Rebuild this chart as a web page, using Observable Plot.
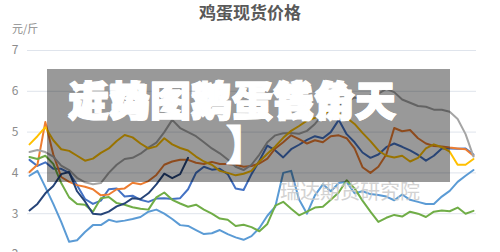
<!DOCTYPE html>
<html>
<head>
<meta charset="utf-8">
<script src="https://cdn.jsdelivr.net/npm/d3@7"></script>
<script src="https://cdn.jsdelivr.net/npm/@observablehq/plot@0.6"></script>
<style>
  html, body { margin: 0; padding: 0; background: #ffffff; }
  #chart { width: 500px; height: 252px; overflow: hidden; }
</style>
</head>
<body>
<div id="chart"></div>
<script>
// ---- data ----
const title = "鸡蛋现货价格";
const unitLabel = "元/斤";
const watermark = "瑞达期货研究院";
const bannerLine1a = "走势图鸡蛋售价天";
const bannerLine1b = "近鸡图鹅蛋钱角天";
const bannerLine2 = "】";
const yTicks = [2, 3, 4, 5, 6, 7];

const weeks = [1,2,3,4,5,6,7,8,9,10,11,12,13,14,15,16,17,18,19,20,21,22,23,24,25,26,27,28,29,30,31,32,33,34,35,36,37,38,39,40,41,42,43,44,45,46,47,48,49,50,51,52,53,54,55,56,57];

const seriesBlue = [4.32,4.17,4.26,4.1,4.1,4.0,3.7,3.36,3.24,3.32,
  3.6,3.62,3.42,3.44,3.34,3.29,3.37,3.38,3.36,3.38,
  3.6,4.0,4.15,4.08,4.1,3.97,3.62,3.58,3.97,4.3,
  4.67,4.55,4.38,4.58,4.69,4.81,4.9,4.85,5.0,5.3,
  4.95,4.75,4.5,4.37,4.45,4.63,4.72,4.64,4.55,4.44,
  4.3,4.42,4.6,4.6,4.59,4.6,4.45];
const seriesOrange = [4.02,4.2,5.25,4.45,3.9,3.78,3.7,3.66,3.6,3.45,
  3.47,3.6,3.62,3.76,3.72,3.8,3.95,4.2,4.28,4.32,
  4.32,4.25,4.22,4.27,4.22,4.22,4.2,4.15,4.17,4.23,
  4.35,4.6,4.75,4.92,4.83,4.72,4.8,4.75,4.9,4.92,
  4.85,4.6,4.14,4.0,4.15,4.45,5.1,5.02,5.05,4.85,
  4.72,4.66,4.65,4.62,4.6,4.58,4.42];
const seriesGray = [4.51,4.56,4.51,4.4,4.18,4.07,3.88,3.77,3.72,3.75,
  4.0,4.2,4.34,4.37,4.47,4.62,4.74,5.0,5.3,5.1,
  5.0,4.9,4.75,4.6,4.48,4.33,4.15,4.07,4.2,4.45,
  4.75,4.92,4.97,4.98,4.96,5.03,5.2,5.43,5.55,5.65,
  5.75,5.85,5.8,5.9,5.94,6.06,5.98,5.8,5.72,5.64,
  5.62,5.55,5.55,5.5,5.32,4.95,4.4];
const seriesGold = [4.7,4.9,5.12,4.8,4.58,4.54,4.42,4.3,4.35,4.49,
  4.6,4.78,4.93,4.87,4.72,4.6,4.65,4.85,4.7,4.61,
  4.55,4.4,4.28,4.2,4.05,4.0,3.94,3.98,4.05,4.28,
  4.47,4.65,4.86,5.03,5.15,5.28,5.35,5.45,5.52,5.45,
  5.35,5.2,4.98,4.78,4.55,4.42,4.38,4.42,4.28,4.37,
  4.6,4.7,4.63,4.52,4.2,4.2,4.34];
const seriesLightBlue = [3.93,4.05,3.65,3.24,2.8,2.31,2.35,2.55,2.72,2.72,
  2.85,2.8,2.83,2.87,2.92,3.05,3.1,3.0,2.87,2.72,
  2.7,2.6,2.5,2.52,2.6,2.5,2.42,2.36,2.45,2.65,
  2.95,3.17,4.0,4.05,3.35,3.0,3.45,3.72,3.55,3.75,
  3.78,3.5,3.55,3.48,3.46,3.42,3.33,3.47,3.34,3.29,
  3.24,3.24,3.42,3.56,3.78,3.93,4.07];
const seriesGreen = [4.39,4.34,4.42,4.22,3.75,3.4,3.24,3.22,3.05,3.38,
  3.41,3.26,3.22,3.16,3.12,3.1,3.4,3.52,3.34,3.25,
  3.17,3.22,3.1,3.0,2.88,2.85,2.7,2.73,2.67,2.57,
  2.75,3.2,3.29,3.12,2.96,3.05,3.15,3.17,3.34,3.52,
  3.82,3.62,3.32,3.05,2.8,2.9,2.97,2.93,3.05,3.0,
  2.92,3.05,3.08,3.06,3.15,3.0,3.07];
const seriesNavy = [3.08,3.24,3.5,3.68,3.97,4.02,3.55,3.3,3.0,2.98,
  3.05,3.18,3.25,3.38,3.36,3.5,3.72,3.98,3.87,3.97,
  4.37];

const seriesList = [
  {values: seriesBlue, color: "#4472C4"},
  {values: seriesOrange, color: "#ED7D31"},
  {values: seriesGray, color: "#A5A5A5"},
  {values: seriesGold, color: "#FFC000"},
  {values: seriesLightBlue, color: "#5B9BD5"},
  {values: seriesGreen, color: "#70AD47"},
  {values: seriesNavy, color: "#264478"}
];

const font = "'Noto Sans CJK SC', 'Noto Sans', sans-serif";

const lineMarks = seriesList.map(s =>
  Plot.line(s.values.map((v, i) => ({week: weeks[i], price: v})), {
    x: "week", y: "price", stroke: s.color, strokeWidth: 2, strokeLinejoin: "round"
  })
);

const chart = Plot.plot({
  width: 500,
  height: 252,
  marginLeft: 20, marginRight: 0, marginTop: 0, marginBottom: 0,
  style: {background: "#ffffff", fontFamily: font, fontSize: "12px", overflow: "hidden"},
  x: {domain: [1, 57], range: [29, 473], axis: null},
  y: {domain: [2, 7], range: [254, 50], axis: null},
  marks: [
    Plot.gridY(yTicks, {stroke: "#dfe4ec", strokeOpacity: 1, strokeWidth: 1, insetLeft: 7, insetRight: 24}),
    Plot.axisY(yTicks, {anchor: "left", tickSize: 0, tickPadding: 2, fill: "#8c8c8c", fontSize: 12, label: null, tickFormat: d => String(d)}),
    ...lineMarks
  ]
});

document.getElementById("chart").appendChild(chart);

const svg = d3.select(chart);

// title and unit
svg.append("text").attr("x", 250).attr("y", 19).attr("text-anchor", "middle")
  .attr("font-family", font).attr("font-size", 17).attr("font-weight", "bold")
  .attr("fill", "#595959").text(title);
svg.append("text").attr("x", 12).attr("y", 33).attr("text-anchor", "start")
  .attr("font-family", font).attr("font-size", 11).attr("fill", "#8c8c8c").text(unitLabel);

// watermark
svg.append("text").attr("x", 280).attr("y", 199).attr("text-anchor", "start")
  .attr("font-family", font).attr("font-size", 20).attr("fill", "#c8c8c8").attr("opacity", 0.8)
  .text(watermark);

// dark translucent banner
svg.append("rect").attr("x", 47).attr("y", 69).attr("width", 403).attr("height", 113)
  .attr("fill", "#000000").attr("fill-opacity", 0.4);

const banner = svg.append("g").attr("font-family", font).attr("font-weight", 900)
  .attr("font-size", 41).attr("fill", "#ffffff").attr("stroke", "#ffffff")
  .attr("stroke-width", 1.2).attr("text-anchor", "start");
banner.append("text").attr("x", 68).attr("y", 116).text(bannerLine1a);
banner.append("text").attr("x", 68).attr("y", 116).text(bannerLine1b);
banner.append("text").attr("x", 226).attr("y", 160).text(bannerLine2);
</script>
</body>
</html>
